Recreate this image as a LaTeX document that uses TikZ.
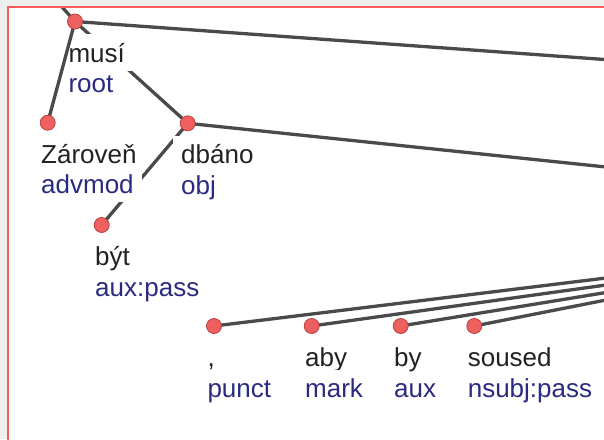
\documentclass[tikz,border=0pt]{standalone}
\usepackage{fontspec}
\setmainfont{Liberation Sans}
\definecolor{bggrey}{HTML}{EEEEEE}
\definecolor{framec}{HTML}{FF5A5A}
\definecolor{edgec}{HTML}{4A4A4A}
\definecolor{dotc}{HTML}{EE5F5F}
\definecolor{dotline}{HTML}{B84040}
\definecolor{wordc}{HTML}{222222}
\definecolor{relc}{HTML}{2A2A80}
\begin{document}
\begin{tikzpicture}[x=1pt,y=-1pt,
  edge/.style={draw=edgec, line width=3.3pt},
  tok/.style={circle, fill=dotc, draw=dotline, line width=0.8pt, minimum size=15pt, inner sep=0pt},
  lbl/.style={anchor=text, fill=white, inner xsep=8pt, inner ysep=8.5pt, font=\fontsize{26}{30}\selectfont},
  word/.style={lbl, text=wordc},
  rel/.style={lbl, text=relc}]
\useasboundingbox (0,0) rectangle (604,439);
\fill[bggrey] (0,0) rectangle (604,439);
\fill[white] (8,6.5) rectangle (610,445);
\begin{scope}
\clip (9,7.5) rectangle (604,439);
% positions
\coordinate (musi) at (75,21.5);
\coordinate (zarov) at (47.7,122.7);
\coordinate (dbano) at (187.7,123.3);
\coordinate (byt) at (101.7,225);
\coordinate (punct) at (214,326);
\coordinate (aby) at (311.7,326);
\coordinate (by) at (400.7,326);
\coordinate (soused) at (474.3,326);
% free ends
\coordinate (musiUp) at (54,-2);
\coordinate (musiR) at (606,59.6);
\coordinate (dbanoR) at (606,167);
\coordinate (punctR) at (606,278);
\coordinate (abyR) at (606,285);
\coordinate (byR) at (606,292.5);
\coordinate (sousedR) at (606,300);
% edges under labels
\draw[edge] (musi) -- (musiUp);
\draw[edge] (musi) -- (musiR);
\draw[edge] (musi) -- (dbano);
\draw[edge] (dbano) -- (dbanoR);
\draw[edge] (dbano) -- (byt);
\draw[edge] (punct) -- (punctR);
\draw[edge] (aby) -- (abyR);
\draw[edge] (by) -- (byR);
\draw[edge] (soused) -- (sousedR);
% labels
\node[word] (w-musi) at (68.5,62) {musí};
\node[rel] (r-musi) at (68.5,92.5) {root};
\node[word] (w-zarov) at (41.2,163) {Zároveň};
\node[rel] (r-zarov) at (41.2,193.7) {advmod};
\node[word] (w-dbano) at (181.2,163.6) {dbáno};
\node[rel] (r-dbano) at (181.2,194.3) {obj};
\node[word] (w-byt) at (95.2,265.3) {být};
\node[rel] (r-byt) at (95.2,296) {aux:pass};
\node[word] (w-punct) at (207.5,366.3) {,};
\node[rel] (r-punct) at (207.5,397) {punct};
\node[word] (w-aby) at (305.2,366.3) {aby};
\node[rel] (r-aby) at (305.2,397) {mark};
\node[word] (w-by) at (394.2,366.3) {by};
\node[rel] (r-by) at (394.2,397) {aux};
\node[word] (w-soused) at (467.8,366.3) {soused};
\node[rel] (r-soused) at (467.8,397) {nsubj:pass};
% edge over labels
\draw[edge] (musi) -- (zarov);
% token dots
\node[tok] (d-musi) at (musi) {};
\node[tok] (d-zarov) at (zarov) {};
\node[tok] (d-dbano) at (dbano) {};
\node[tok] (d-byt) at (byt) {};
\node[tok] (d-punct) at (punct) {};
\node[tok] (d-aby) at (aby) {};
\node[tok] (d-by) at (by) {};
\node[tok] (d-soused) at (soused) {};
\end{scope}
\draw[framec, line width=2pt] (8,445) -- (8,6.5) -- (610,6.5);
\end{tikzpicture}
\end{document}
